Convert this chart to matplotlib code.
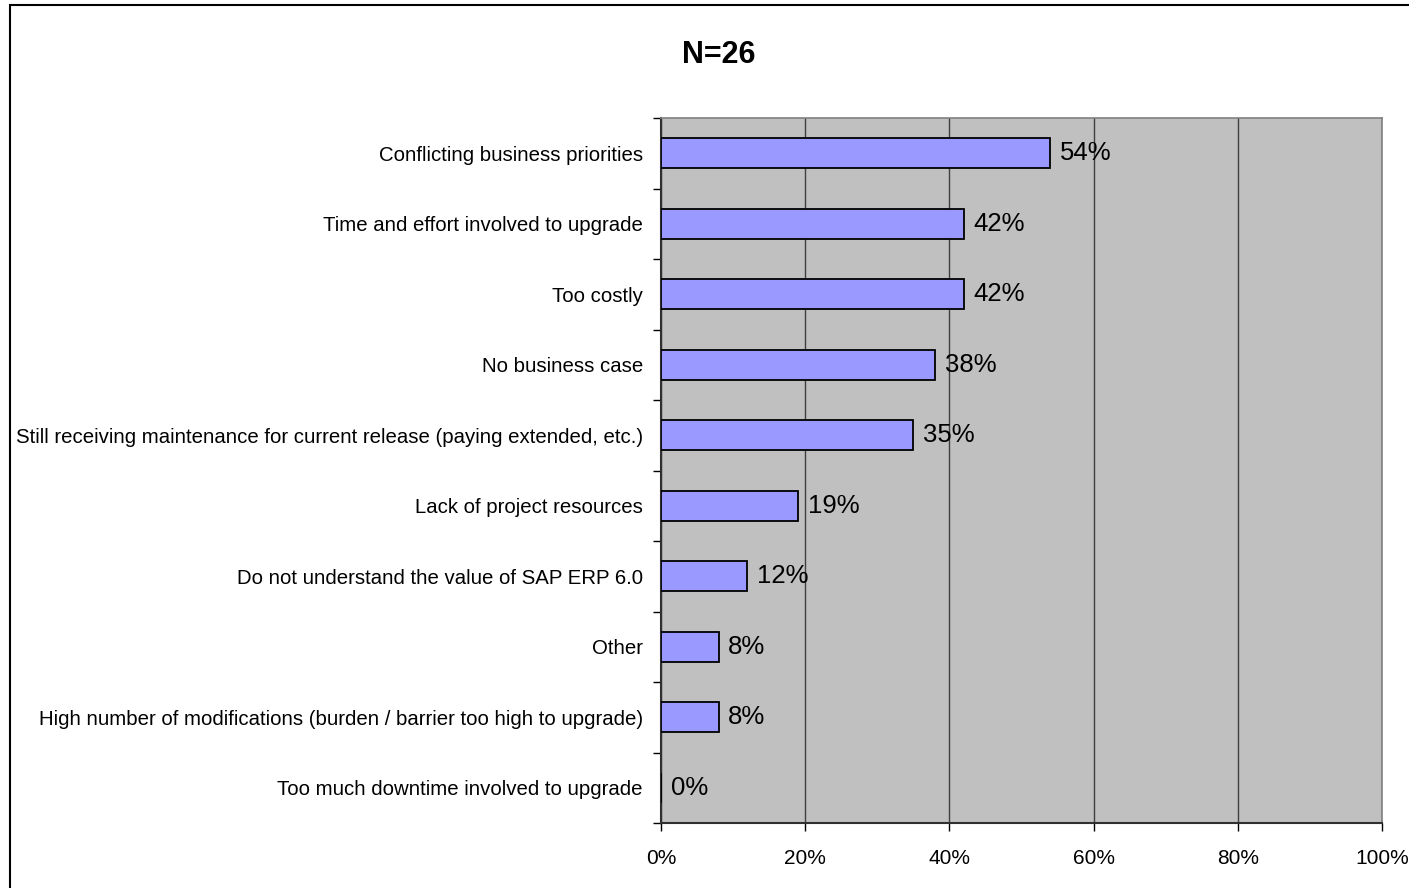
import matplotlib

matplotlib.use("Agg")
import matplotlib.pyplot as plt
from matplotlib.patches import Rectangle
from matplotlib.ticker import FixedLocator, MultipleLocator, PercentFormatter

plt.rcParams["font.family"] = ["Liberation Sans", "DejaVu Sans"]

motivos = [
    "Conflicting business priorities",
    "Time and effort involved to upgrade",
    "Too costly",
    "No business case",
    "Still receiving maintenance for current release (paying extended, etc.)",
    "Lack of project resources",
    "Do not understand the value of SAP ERP 6.0",
    "Other",
    "High number of modifications (burden / barrier too high to upgrade)",
    "Too much downtime involved to upgrade",
]
percentuais = [54, 42, 42, 38, 35, 19, 12, 8, 8, 0]
titulo = "N=26"

fig = plt.figure(figsize=(14.09, 8.88), dpi=100)
eixo = fig.add_axes([0.4691, 0.0732, 0.5117, 0.7939])

posicoes = list(range(len(motivos)))
barras = eixo.barh(
    posicoes,
    percentuais,
    height=0.42,
    color="#9999FF",
    edgecolor="black",
    linewidth=1.3,
    zorder=3,
)
eixo.bar_label(
    barras,
    labels=[f"{v}%" for v in percentuais],
    padding=7,
    fontsize=18.5,
    zorder=4,
)

eixo.set_xlim(0, 100)
eixo.set_ylim(len(motivos) - 0.5, -0.5)
eixo.set_facecolor("#C0C0C0")
eixo.xaxis.set_major_locator(MultipleLocator(20))
eixo.xaxis.set_major_formatter(PercentFormatter(100, decimals=0))
eixo.grid(axis="x", color="#404040", linewidth=1.0, zorder=1)
eixo.set_axisbelow(True)

# rótulos das categorias centrados, ticks nas divisões entre categorias
eixo.set_yticks(posicoes)
eixo.set_yticklabels(motivos, fontsize=14.7)
eixo.tick_params(axis="y", length=0, pad=13)
eixo.yaxis.set_minor_locator(FixedLocator([p + 0.5 for p in range(-1, len(motivos))]))
eixo.tick_params(axis="y", which="minor", length=6, width=1, direction="out")
eixo.tick_params(axis="x", length=6, width=1, direction="out", labelsize=15, pad=13)

for lado in ("top", "right"):
    eixo.spines[lado].set_color("#808080")
    eixo.spines[lado].set_linewidth(1.2)
for lado in ("left", "bottom"):
    eixo.spines[lado].set_color("#303030")
    eixo.spines[lado].set_linewidth(1.5)

fig.text(719 / 1409, 1 - 55 / 888, titulo, ha="center", va="center",
         fontsize=22, fontweight="bold")

# moldura externa do gráfico
fig.patches.append(
    Rectangle((10 / 1409, -0.05), 1.1, 1 - 5 / 888 + 0.05,
              transform=fig.transFigure, fill=False, edgecolor="black",
              linewidth=1.5, clip_on=False)
)

fig.savefig("out.png", dpi=100)
plt.close(fig)
